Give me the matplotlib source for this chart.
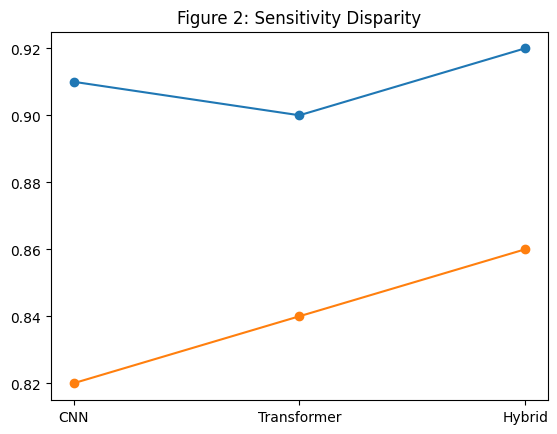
import matplotlib.pyplot as plt

models = ["CNN", "Transformer", "Hybrid"]
group_a = [0.91, 0.90, 0.92]
group_b = [0.82, 0.84, 0.86]

fig = plt.figure(figsize=(5.57, 4.35), dpi=100)
ax = fig.add_axes([0.0916, 0.0782, 0.892, 0.847])

ax.plot(models, group_a, marker="o")
ax.plot(models, group_b, marker="o")

ax.set_title("Figure 2: Sensitivity Disparity")

fig.savefig("out.png", dpi=100)
